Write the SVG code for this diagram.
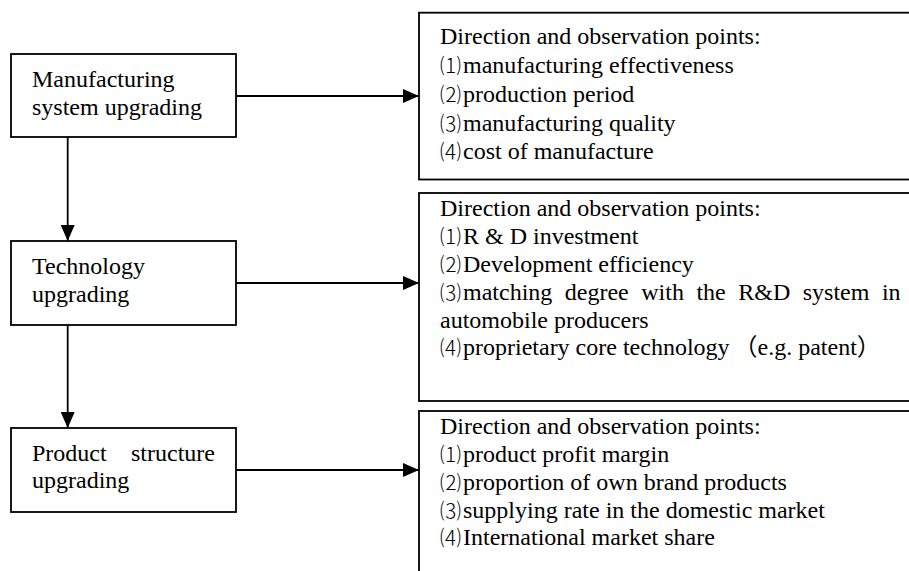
<svg xmlns="http://www.w3.org/2000/svg" width="909" height="571" viewBox="0 0 909 571">
<defs>
<style>
.box{fill:#fff;stroke:#000;stroke-width:1.8}
.t{font-family:"Liberation Serif","Noto Sans CJK SC",serif;font-size:24px;fill:#000}
.n{font-family:"Noto Sans CJK SC",sans-serif;font-size:21px;font-weight:300}
.ln{stroke:#000;stroke-width:1.8;fill:none}
</style>
<marker id="av" markerWidth="16" markerHeight="14" refX="16" refY="7" orient="auto" markerUnits="userSpaceOnUse">
<path d="M0,0 L16,7 L0,14 Z" fill="#000"/>
</marker>
</defs>
<g id="connectors">
<line class="ln" x1="236" y1="96" x2="419" y2="96" marker-end="url(#av)"/>
<line class="ln" x1="236" y1="283" x2="419" y2="283" marker-end="url(#av)"/>
<line class="ln" x1="236" y1="470" x2="419" y2="470" marker-end="url(#av)"/>
<line class="ln" x1="67.7" y1="137" x2="67.7" y2="241" marker-end="url(#av)"/>
<line class="ln" x1="67.7" y1="325" x2="67.7" y2="428" marker-end="url(#av)"/>
</g>
<g id="manufacturing">
<rect class="box" x="11" y="54" width="225" height="83"/>
<text class="t" x="32" y="87">Manufacturing</text>
<text class="t" x="32" y="115">system upgrading</text>
</g>
<g id="technology">
<rect class="box" x="11" y="241" width="225" height="84"/>
<text class="t" x="32" y="274">Technology</text>
<text class="t" x="32" y="302">upgrading</text>
</g>
<g id="product">
<rect class="box" x="11" y="428" width="225" height="84"/>
<text class="t" x="32" y="461">Product</text>
<text class="t" x="215" y="461" text-anchor="end">structure</text>
<text class="t" x="32" y="488">upgrading</text>
</g>
<g id="points-manufacturing">
<rect class="box" x="419" y="12.7" width="520" height="166.8"/>
<text class="t" x="440" y="44">Direction and observation points:</text>
<text class="t" x="440" y="73"><tspan class="n">⑴</tspan><tspan dx="2">manufacturing effectiveness</tspan></text>
<text class="t" x="440" y="102"><tspan class="n">⑵</tspan><tspan dx="2">production period</tspan></text>
<text class="t" x="440" y="130.5"><tspan class="n">⑶</tspan><tspan dx="2">manufacturing quality</tspan></text>
<text class="t" x="440" y="159"><tspan class="n">⑷</tspan><tspan dx="2">cost of manufacture</tspan></text>
</g>
<g id="points-technology">
<rect class="box" x="419" y="193" width="520" height="208"/>
<text class="t" x="440" y="216">Direction and observation points:</text>
<text class="t" x="440" y="244"><tspan class="n">⑴</tspan><tspan dx="2">R &amp; D investment</tspan></text>
<text class="t" x="440" y="272"><tspan class="n">⑵</tspan><tspan dx="2">Development efficiency</tspan></text>
<text class="t" x="440" y="300" word-spacing="6.5"><tspan class="n">⑶</tspan><tspan dx="2">matching degree with the R&amp;D system in</tspan></text>
<text class="t" x="440" y="327.5">automobile producers</text>
<text class="t" x="440" y="355"><tspan class="n">⑷</tspan><tspan dx="2">proprietary core technology</tspan><tspan dx="4">（e.g. patent）</tspan></text>
</g>
<g id="points-product">
<rect class="box" x="419" y="411" width="520" height="200"/>
<text class="t" x="440" y="434">Direction and observation points:</text>
<text class="t" x="440" y="462"><tspan class="n">⑴</tspan><tspan dx="2">product profit margin</tspan></text>
<text class="t" x="440" y="490"><tspan class="n">⑵</tspan><tspan dx="2">proportion of own brand products</tspan></text>
<text class="t" x="440" y="517.5"><tspan class="n">⑶</tspan><tspan dx="2">supplying rate in the domestic market</tspan></text>
<text class="t" x="440" y="545"><tspan class="n">⑷</tspan><tspan dx="2">International market share</tspan></text>
</g>
</svg>
